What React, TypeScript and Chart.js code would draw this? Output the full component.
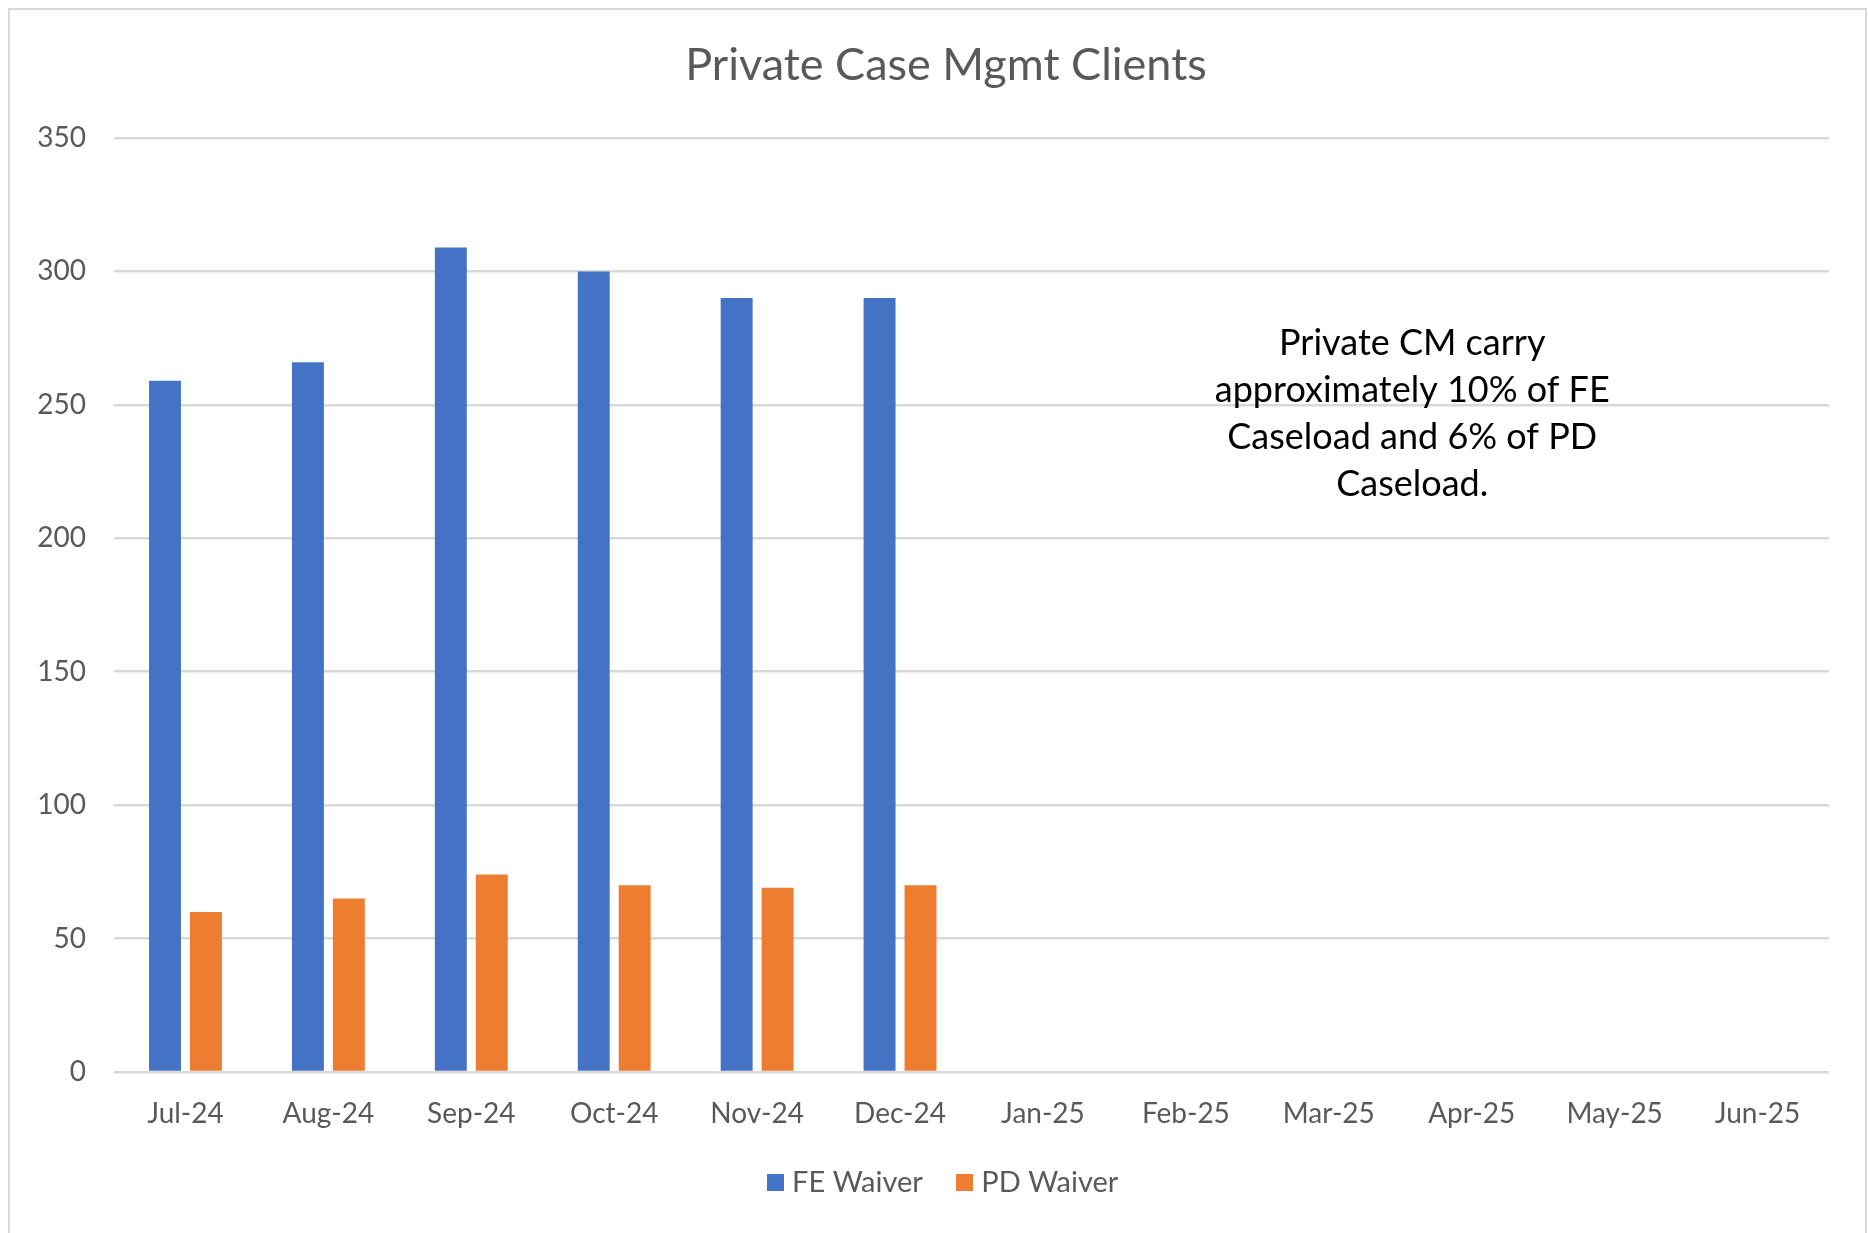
import React, { useEffect, useRef } from "react";
import { Chart, registerables } from "chart.js";

Chart.register(...registerables);

const TITLE = "Private Case Mgmt Clients";
const MONTHS = ["Jul-24", "Aug-24", "Sep-24", "Oct-24", "Nov-24", "Dec-24", "Jan-25", "Feb-25", "Mar-25", "Apr-25", "May-25", "Jun-25"];
const FE_LABEL = "FE Waiver";
const PD_LABEL = "PD Waiver";
const FE_VALUES = [259, 266, 309, 300, 290, 290, null, null, null, null, null, null];
const PD_VALUES = [60, 65, 74, 70, 69, 70, null, null, null, null, null, null];
const SERIES_COLORS = ["#4472C4", "#ED7D31"];
const Y_MIN = 0;
const Y_MAX = 350;
const Y_STEP = 50;
const NOTE_LINES = ["Private CM carry", "approximately 10% of FE", "Caseload and 6% of PD", "Caseload."];

const FONT = "Lato, 'Open Sans', sans-serif";

const notePlugin = {
  id: "noteText",
  afterDraw(chart: any) {
    const { ctx, chartArea } = chart;
    const yScale = chart.scales.y;
    const cx = chartArea.left + (chartArea.right - chartArea.left) * 0.757;
    const y0 = yScale.getPixelForValue(273);
    const lh = 47;
    ctx.save();
    ctx.fillStyle = "#000000";
    ctx.font = `36px ${FONT}`;
    ctx.textAlign = "center";
    ctx.textBaseline = "middle";
    NOTE_LINES.forEach((line, i) => {
      ctx.fillText(line, cx, y0 + i * lh);
    });
    ctx.restore();
  },
};

function makeSwatch(color: string) {
  const cv = document.createElement("canvas");
  cv.width = 17;
  cv.height = 17;
  const g = cv.getContext("2d");
  if (g) {
    g.fillStyle = color;
    g.fillRect(0, 0, 17, 17);
  }
  return cv;
}

export default function App() {
  const canvasRef = useRef<HTMLCanvasElement | null>(null);

  useEffect(() => {
    if (!canvasRef.current) return;
    const swatches = SERIES_COLORS.map(makeSwatch);
    const chart = new Chart(canvasRef.current, {
      type: "bar",
      data: {
        labels: MONTHS,
        datasets: [
          {
            label: FE_LABEL,
            data: FE_VALUES,
            backgroundColor: SERIES_COLORS[0],
            yAxisID: "y",
            categoryPercentage: 0.573,
            barPercentage: 0.78,
          },
          {
            label: PD_LABEL,
            data: PD_VALUES,
            backgroundColor: SERIES_COLORS[1],
            yAxisID: "y",
            categoryPercentage: 0.573,
            barPercentage: 0.78,
          },
        ],
      },
      options: {
        responsive: false,
        animation: false,
        layout: { padding: { left: 17, right: 0, top: 0, bottom: 24 } },
        plugins: {
          title: {
            display: true,
            text: TITLE,
            color: "#595959",
            font: { family: FONT, size: 45, weight: "normal" },
            padding: { top: 28, bottom: 46 },
          },
          legend: {
            position: "bottom",
            labels: {
              color: "#595959",
              font: { family: FONT, size: 29 },
              usePointStyle: true,
              boxWidth: 4,
              boxHeight: 17,
              padding: 40,
              generateLabels(c: any) {
                const items = Chart.defaults.plugins.legend.labels.generateLabels(c);
                items.forEach((it: any, i: number) => {
                  it.pointStyle = swatches[i % swatches.length];
                });
                return items;
              },
            },
          },
          tooltip: { enabled: false },
        },
        scales: {
          x: {
            grid: { display: false, drawTicks: false },
            border: { display: false },
            ticks: {
              color: "#595959",
              font: { family: FONT, size: 28 },
              padding: 25,
              maxRotation: 0,
              autoSkip: false,
            },
            afterFit(scale: any) {
              scale.height = 56;
            },
          },
          y: {
            min: Y_MIN,
            max: Y_MAX,
            grid: { color: "#d9d9d9", lineWidth: 2.5, drawTicks: false },
            border: { display: false },
            ticks: {
              stepSize: Y_STEP,
              color: "#595959",
              font: { family: FONT, size: 28 },
              padding: 28,
            },
            afterFit(scale: any) {
              scale.width = 87;
            },
          },
          yPad: {
            type: "linear",
            position: "right",
            display: true,
            grid: { display: false, drawTicks: false },
            border: { display: false },
            ticks: { display: false },
            afterFit(scale: any) {
              scale.width = 36;
            },
          },
        },
      },
      plugins: [notePlugin],
    });
    return () => chart.destroy();
  }, []);

  return (
    <div
      style={{
        position: "fixed",
        left: 8,
        top: 8,
        width: 1859,
        height: 1245,
        boxSizing: "border-box",
        border: "2px solid #d9d9d9",
        background: "#ffffff",
      }}
    >
      <canvas ref={canvasRef} width={1855} height={1221} style={{ display: "block", width: 1855, height: 1221 }} />
    </div>
  );
}
